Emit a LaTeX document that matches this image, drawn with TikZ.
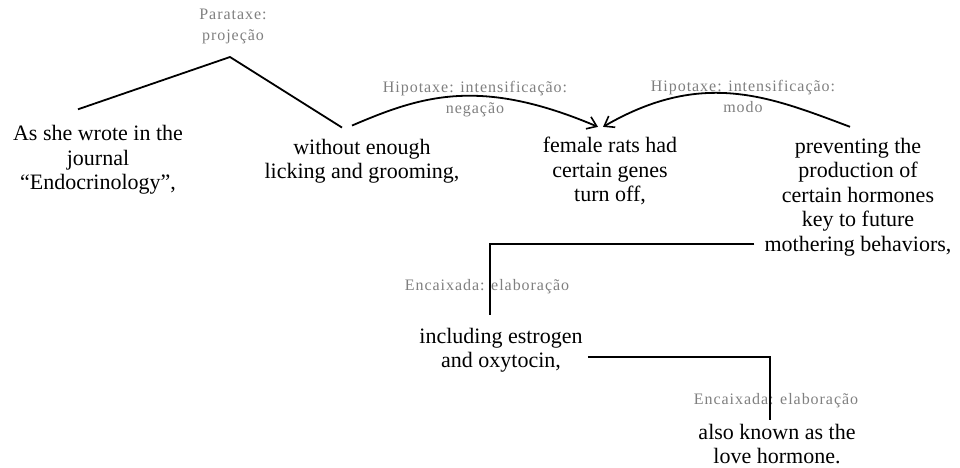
\documentclass[tikz,border=0pt]{standalone}
\usepackage{fontspec}
\setmainfont{Liberation Serif}
\newfontfamily\relfont[LetterSpace=6]{Liberation Serif}
\usetikzlibrary{arrows.meta, calc}
\definecolor{relgray}{HTML}{7F7F7F}

\begin{document}
\begin{tikzpicture}[x=1pt, y=-1pt,
  sent/.style={align=center, inner sep=0pt, font=\fontsize{22}{24.5}\selectfont},
  rel/.style={align=center, inner sep=0pt, text=relgray, font=\relfont\fontsize{16}{21}\selectfont},
  link/.style={line width=1.8pt},
  arr/.style={link, -{Straight Barb[length=9pt, width=13pt, line width=1.6pt]}}]
  \useasboundingbox (0,0) rectangle (960,467);

  % Clauses
  \node[sent] (nA) at (98,160)  {As she wrote in the\\journal\\“Endocrinology”,};
  \node[sent] (nB) at (362,161) {without enough\\licking and grooming,};
  \node[sent] (nC) at (610,171) {female rats had\\certain genes\\turn off,};
  \node[sent] (nD) at (858,197) {preventing the\\production of\\certain hormones\\key to future\\mothering behaviors,};
  \node[sent] (nE) at (501,350) {including estrogen\\and oxytocin,};
  \node[sent] (nF) at (777,444) {also known as the\\love hormone.};

  % Relation labels
  \node[rel] (lPar)  at (233,26)  {Parataxe:\\projeção};
  \node[rel] (lHipA) at (475,99)  {Hipotaxe: intensificação:\\negação};
  \node[rel] (lHipB) at (743,96)  {Hipotaxe: intensificação:\\modo};
  \node[rel] (lEncA) at (487,287) {Encaixada: elaboração};
  \node[rel] (lEncB) at (776,401) {Encaixada: elaboração};

  % Parataxe: projecao
  \coordinate (apex) at (230,57);
  \draw[link] ($(nA.north)+(-20,-16)$) -- (apex) -- ($(nB.north)+(-20,-11)$);

  % Hipotaxe arcs
  \draw[arr] ($(nB.north)+(-10,-13)$) .. controls +(70,-30) and +(-118,-50) .. ($(nC.north)+(-12,-10)$);
  \draw[arr] ($(nD.north)+(-8,-11)$) .. controls +(-80,-30) and +(100,-58) .. ($(nC.north)+(-7,-10)$);

  % Encaixada links
  \draw[link] ($(nD.south west)+(-10,-12)$) -| ($(nE.north)+(-11,-13)$);
  \draw[link] ($(nE.east)+(5,7)$) -| ($(nF.north)+(-7,-4)$);
\end{tikzpicture}
\end{document}
